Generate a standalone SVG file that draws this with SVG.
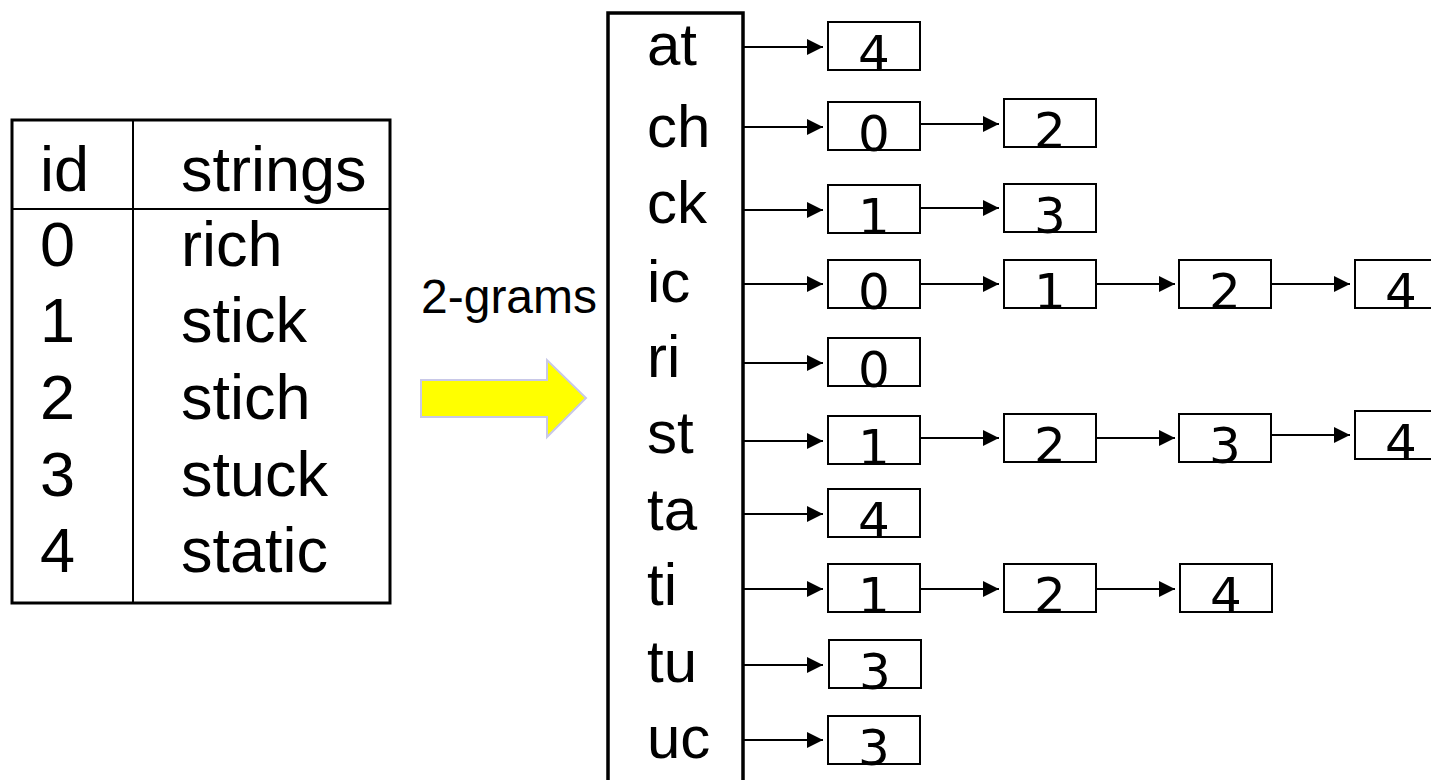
<svg xmlns="http://www.w3.org/2000/svg" width="1431" height="780" viewBox="0 0 1431 780">
  <defs>
    <marker id="head" viewBox="0 0 16 16" refX="16" refY="8" markerWidth="16" markerHeight="16" markerUnits="userSpaceOnUse" orient="auto">
      <path d="M0,0 L16,8 L0,16 Z" fill="#000"/>
    </marker>
  </defs>
  <style>
    .sans { font-family: "Liberation Sans", Arial, sans-serif; fill: #000; }
    .tbl { font-size: 63px; }
    .gram { font-size: 60px; }
    .num { font-family: "DejaVu Sans", Verdana, sans-serif; font-size: 50px; fill: #000; text-anchor: middle; }
    .cell { fill: #fff; stroke: #000; stroke-width: 2; }
    .link { stroke: #000; stroke-width: 2; fill: none; marker-end: url(#head); }
  </style>
  <rect width="1431" height="780" fill="#fff"/>

  <!-- string table -->
  <g id="table">
    <rect x="12" y="120" width="378" height="483" fill="none" stroke="#000" stroke-width="3"/>
    <line x1="133" y1="120" x2="133" y2="603" stroke="#000" stroke-width="2"/>
    <line x1="12" y1="209" x2="390" y2="209" stroke="#000" stroke-width="2"/>
    <g class="sans tbl">
      <text x="40" y="191">id</text>
      <text x="181" y="191">strings</text>
      <text x="40" y="266">0</text><text x="181" y="266">rich</text>
      <text x="40" y="342">1</text><text x="181" y="342">stick</text>
      <text x="40" y="419">2</text><text x="181" y="419">stich</text>
      <text x="40" y="496">3</text><text x="181" y="496">stuck</text>
      <text x="40" y="572">4</text><text x="181" y="572">static</text>
    </g>
  </g>

  <!-- transformation arrow -->
  <g id="transform">
    <text class="sans" x="421" y="313" font-size="48">2-grams</text>
    <polygon points="421,380 547,380 547,360 586,398 547,437 547,417 421,417" fill="#ffff00" stroke="#c8c8e8" stroke-width="2"/>
  </g>

  <!-- gram dictionary -->
  <g id="dictionary">
    <rect x="608" y="13" width="135" height="800" fill="none" stroke="#000" stroke-width="3.5"/>
    <g class="sans gram">
      <text x="647" y="65">at</text>
      <text x="647" y="147">ch</text>
      <text x="647" y="223">ck</text>
      <text x="647" y="302">ic</text>
      <text x="647" y="377">ri</text>
      <text x="647" y="453">st</text>
      <text x="647" y="530">ta</text>
      <text x="647" y="605">ti</text>
      <text x="647" y="682">tu</text>
      <text x="647" y="758">uc</text>
    </g>
  </g>

  <!-- connectors -->
  <g id="connectors">
    <line class="link" x1="744" y1="47" x2="823" y2="47"/>
    <line class="link" x1="744" y1="127" x2="823" y2="127"/>
    <line class="link" x1="920" y1="124" x2="999" y2="124"/>
    <line class="link" x1="744" y1="210" x2="823" y2="210"/>
    <line class="link" x1="920" y1="208" x2="999" y2="208"/>
    <line class="link" x1="744" y1="284" x2="823" y2="284"/>
    <line class="link" x1="920" y1="284" x2="999" y2="284"/>
    <line class="link" x1="1096" y1="284" x2="1175" y2="284"/>
    <line class="link" x1="1271" y1="284" x2="1350" y2="284"/>
    <line class="link" x1="744" y1="363" x2="823" y2="363"/>
    <line class="link" x1="744" y1="441" x2="823" y2="441"/>
    <line class="link" x1="920" y1="438" x2="999" y2="438"/>
    <line class="link" x1="1096" y1="438" x2="1175" y2="438"/>
    <line class="link" x1="1271" y1="435" x2="1350" y2="435"/>
    <line class="link" x1="744" y1="514" x2="823" y2="514"/>
    <line class="link" x1="744" y1="589" x2="823" y2="589"/>
    <line class="link" x1="920" y1="589" x2="999" y2="589"/>
    <line class="link" x1="1096" y1="589" x2="1175" y2="589"/>
    <line class="link" x1="744" y1="665" x2="823" y2="665"/>
    <line class="link" x1="744" y1="740" x2="823" y2="740"/>
  </g>

  <!-- posting lists -->
  <g id="list-at">
    <rect class="cell" x="828" y="22" width="92" height="48"/><text class="num" x="874" y="71">4</text>
  </g>
  <g id="list-ch">
    <rect class="cell" x="828" y="102" width="92" height="48"/><text class="num" x="874" y="151">0</text>
    <rect class="cell" x="1004" y="99" width="92" height="48"/><text class="num" x="1050" y="148">2</text>
  </g>
  <g id="list-ck">
    <rect class="cell" x="828" y="185" width="92" height="48"/><text class="num" x="874" y="234">1</text>
    <rect class="cell" x="1004" y="184" width="92" height="48"/><text class="num" x="1050" y="233">3</text>
  </g>
  <g id="list-ic">
    <rect class="cell" x="828" y="260" width="92" height="48"/><text class="num" x="874" y="309">0</text>
    <rect class="cell" x="1004" y="260" width="92" height="48"/><text class="num" x="1050" y="309">1</text>
    <rect class="cell" x="1179" y="260" width="92" height="48"/><text class="num" x="1225" y="309">2</text>
    <rect class="cell" x="1355" y="260" width="92" height="48"/><text class="num" x="1401" y="309">4</text>
  </g>
  <g id="list-ri">
    <rect class="cell" x="828" y="338" width="92" height="48"/><text class="num" x="874" y="387">0</text>
  </g>
  <g id="list-st">
    <rect class="cell" x="828" y="416" width="92" height="48"/><text class="num" x="874" y="465">1</text>
    <rect class="cell" x="1004" y="414" width="92" height="48"/><text class="num" x="1050" y="463">2</text>
    <rect class="cell" x="1179" y="414" width="92" height="48"/><text class="num" x="1225" y="463">3</text>
    <rect class="cell" x="1355" y="411" width="92" height="48"/><text class="num" x="1401" y="460">4</text>
  </g>
  <g id="list-ta">
    <rect class="cell" x="828" y="489" width="92" height="48"/><text class="num" x="874" y="538">4</text>
  </g>
  <g id="list-ti">
    <rect class="cell" x="828" y="564" width="92" height="48"/><text class="num" x="874" y="613">1</text>
    <rect class="cell" x="1004" y="564" width="92" height="48"/><text class="num" x="1050" y="613">2</text>
    <rect class="cell" x="1180" y="564" width="92" height="48"/><text class="num" x="1226" y="613">4</text>
  </g>
  <g id="list-tu">
    <rect class="cell" x="829" y="640" width="92" height="48"/><text class="num" x="875" y="689">3</text>
  </g>
  <g id="list-uc">
    <rect class="cell" x="828" y="716" width="92" height="48"/><text class="num" x="874" y="765">3</text>
  </g>
</svg>
